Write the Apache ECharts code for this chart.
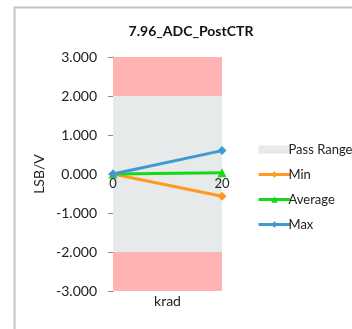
<!DOCTYPE html>
<html><head><meta charset="utf-8">
<script src="https://cdn.jsdelivr.net/npm/echarts@6/dist/echarts.min.js"></script>
<style>html,body{margin:0;padding:0;background:#fff}#c{width:352px;height:329px}</style>
</head><body><div id="c"></div>
<script>
const titleText = '7.96_ADC_PostCTR';
const xValues = [0, 20];
const minValues = [0, -0.57];
const avgValues = [0, 0.03];
const maxValues = [0, 0.6];
const passRange = [-2, 2];
const failHigh = [2, 3];
const failLow = [-3, -2];
const yTicks = [-3, -2, -1, 0, 1, 2, 3];
const seriesNames = ['Pass Range', 'Min', 'Average', 'Max'];

const font = 'Lato, "Open Sans", sans-serif';
const W = 352, H = 329;
const grid = { left: 113, right: 130, top: 57, bottom: 38 };
const yMin = yTicks[0], yMax = yTicks[yTicks.length - 1];
// place the x axis where y = 0 crosses (Excel style)
const zeroOffset = -(H - grid.top - grid.bottom) * (0 - yMin) / (yMax - yMin);

const chart = echarts.init(document.getElementById('c'));
const pts = v => xValues.map((x, i) => [x, v[i]]);
chart.setOption({
  animation: false,
  textStyle: { fontFamily: font },
  graphic: [{ type: 'rect', left: 12, top: 5, shape: { width: 400, height: 400 }, style: { fill: 'none', stroke: '#c4c4c4', lineWidth: 2 }, z: -1 }],
  title: { text: titleText, left: 186, textAlign: 'center', top: 19, textStyle: { fontFamily: font, fontSize: 14, fontWeight: 'bold', color: '#111' } },
  grid: grid,
  xAxis: [{
    type: 'value', min: xValues[0], max: xValues[1], interval: 20,
    position: 'bottom', offset: zeroOffset, z: 10,
    axisLine: { show: false, onZero: false },
    axisTick: { show: false },
    axisLabel: { margin: 3, fontSize: 13, color: '#222', fontFamily: font },
    splitLine: { show: false }
  }, {
    type: 'value', position: 'bottom', min: xValues[0], max: xValues[1],
    name: 'krad', nameLocation: 'middle', nameGap: 3,
    nameTextStyle: { fontFamily: font, fontSize: 14, color: '#222' },
    axisLine: { show: false, onZero: false }, axisTick: { show: false },
    axisLabel: { show: false }, splitLine: { show: false }
  }],
  yAxis: {
    type: 'value', min: yMin, max: yMax, interval: 1,
    name: 'LSB/V', nameLocation: 'middle', nameGap: 67, nameRotate: 90,
    nameTextStyle: { fontFamily: font, fontSize: 14, color: '#222' },
    axisLine: { show: true, onZero: false, lineStyle: { color: '#888' } },
    axisTick: { show: true, inside: false, length: 5, lineStyle: { color: '#888' } },
    axisLabel: { margin: 16, fontSize: 14, color: '#222', fontFamily: font, formatter: v => v.toFixed(3) },
    splitLine: { show: false }
  },
  legend: {
    orient: 'vertical', left: 252, top: 136, itemWidth: 32, itemHeight: 8, itemGap: 8,
    lineStyle: { width: 3 },
    textStyle: { fontFamily: font, fontSize: 13, color: '#222', padding: [0,0,0,-7], lineHeight: 17 },
    data: [
      { name: seriesNames[0], icon: 'rect', itemStyle: { color: '#e6eaea' } },
      { name: seriesNames[1] }, { name: seriesNames[2] }, { name: seriesNames[3] }
    ]
  },
  series: [
    {
      name: seriesNames[0], type: 'line', data: [], itemStyle: { color: '#e6eaea' },
      markArea: {
        silent: true,
        data: [
          [{ xAxis: xValues[0], yAxis: failHigh[0], itemStyle: { color: '#ffb3b3' } }, { xAxis: xValues[1], yAxis: failHigh[1] }],
          [{ xAxis: xValues[0], yAxis: passRange[0], itemStyle: { color: '#e6eaea' } }, { xAxis: xValues[1], yAxis: passRange[1] }],
          [{ xAxis: xValues[0], yAxis: failLow[0], itemStyle: { color: '#ffb3b3' } }, { xAxis: xValues[1], yAxis: failLow[1] }]
        ]
      }
    },
    { name: seriesNames[1], type: 'line', data: pts(minValues), symbol: 'diamond', symbolSize: 9, lineStyle: { width: 3, color: '#ff9a1e' }, itemStyle: { color: '#ff9a1e' } },
    { name: seriesNames[2], type: 'line', data: pts(avgValues), symbol: 'triangle', symbolSize: 9, lineStyle: { width: 3, color: '#18d818' }, itemStyle: { color: '#18d818' } },
    { name: seriesNames[3], type: 'line', data: pts(maxValues), symbol: 'diamond', symbolSize: 9, lineStyle: { width: 3, color: '#3d9bd2' }, itemStyle: { color: '#3d9bd2' } }
  ]
});
</script></body></html>
